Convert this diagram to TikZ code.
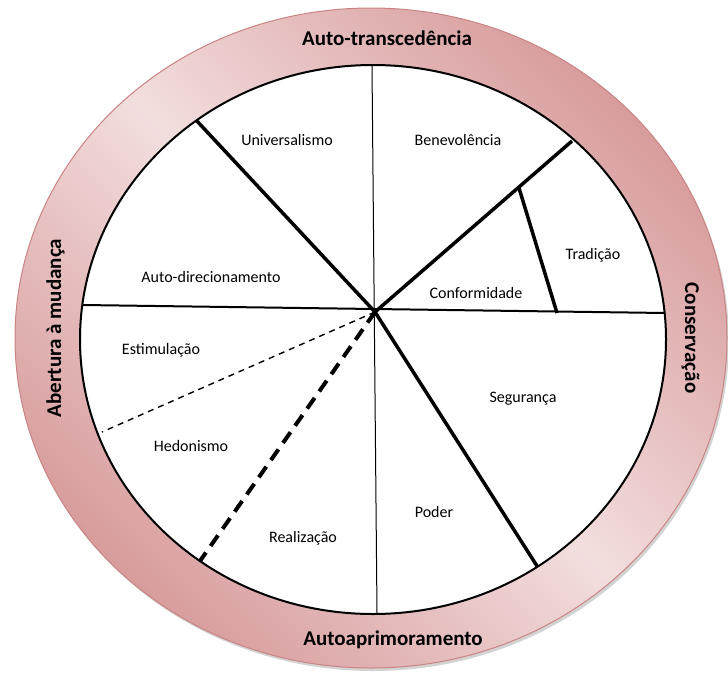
\documentclass[tikz,border=0pt]{standalone}
\usepackage{fontspec}
\setmainfont{Carlito}
\definecolor{ringdark}{HTML}{D89C9D}
\definecolor{ringlight}{HTML}{F3DEDE}
\definecolor{ringedge}{HTML}{C98483}
\begin{document}
\begin{tikzpicture}[x=1pt,y=-1pt,
  lbl/.style={font=\fontsize{16}{19}\selectfont, anchor=center, inner sep=0pt},
  cat/.style={font=\fontsize{21}{25}\selectfont\bfseries, anchor=base, inner sep=0pt},
  spoke/.style={line width=3.5pt},
  thinsep/.style={line width=1pt},
  midsep/.style={line width=2pt},
  fineDash/.style={line width=1.4pt, dash pattern=on 6pt off 5pt},
  boldDash/.style={line width=4pt, dash pattern=on 13pt off 8pt}]
\useasboundingbox (0,0) rectangle (728,672);
% shadow
\fill[gray, opacity=0.35] (373,341) ellipse [x radius=356, y radius=330];
% ring
\path[even odd rule, top color=ringdark, bottom color=ringdark, middle color=ringlight, shading angle=-45]
  (371,338) ellipse [x radius=356, y radius=330]
  (373,339.5) ellipse [x radius=293, y radius=274.5];
\draw[ringedge, line width=1pt] (371,338) ellipse [x radius=356, y radius=330];
% inner disc
\fill[white] (373,339.5) ellipse [x radius=293, y radius=274.5];
% coordinates
\coordinate (hub) at (375,312);
\coordinate (vt) at (372,66);
\coordinate (vb) at (377,613);
\coordinate (hl) at (83,305);
\coordinate (hr) at (665,313);
\coordinate (uw) at (196,120);
\coordinate (ne) at (572,141);
\coordinate (se) at (537,566);
\coordinate (tt) at (519,188);
\coordinate (tb) at (557,313);
\coordinate (dw) at (102,432);
\coordinate (sw) at (200,561);
% separators
\draw[thinsep] (vt) -- (vb);
\draw[midsep] (hl) -- (hr);
\draw[spoke] (uw) -- (hub);
\draw[spoke] (hub) -- (ne);
\draw[spoke] (hub) -- (se);
\draw[spoke] (tt) -- (tb);
\draw[fineDash] (hub) -- (dw);
\draw[boldDash] (hub) -- (sw);
\draw[line width=2pt] (373,339.5) ellipse [x radius=293, y radius=274.5];
% labels
\node[lbl] (univ) at (287,140) {Universalismo};
\node[lbl] (bene) at (458,140) {Benevolência};
\node[lbl] (trad) at (593,255) {Tradição};
\node[lbl] (conf) at (476,293) {Conformidade};
\node[lbl] (autod) at (211,277) {Auto-direcionamento};
\node[lbl] (esti) at (161,350) {Estimulação};
\node[lbl] (hedo) at (191,446) {Hedonismo};
\node[lbl] (real) at (303,538) {Realização};
\node[lbl] (segu) at (523,399) {Segurança};
\node[lbl] (pode) at (434,512) {Poder};
% category labels
\node[cat] (cattop) at (387,45) {Auto-transcedência};
\node[cat] (catbot) at (393,645) {Autoaprimoramento};
\node[cat, rotate=90] (catleft) at (61,328) {Abertura à mudança};
\node[cat, rotate=-90] (catright) at (685,338) {Conservação};
\end{tikzpicture}
\end{document}
